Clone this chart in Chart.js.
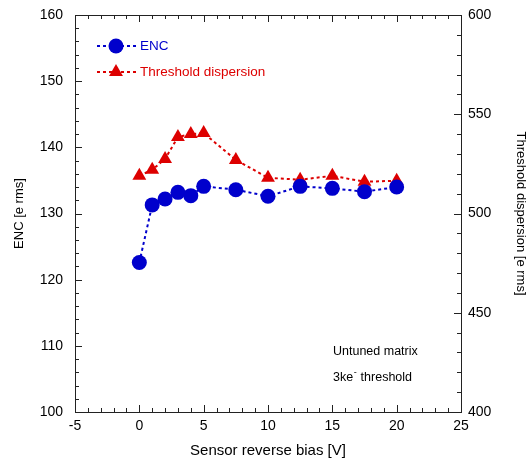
<!DOCTYPE html>
<html lang="en">
<head>
    <meta charset="UTF-8">
    <title>ENC and threshold dispersion vs sensor bias</title>
    <style>
        body {
            margin: 0;
            background: #fff;
        }

        #chart-box {
            width: 530px;
            height: 463px;
        }
    </style>
</head>
<body>
    <div id="chart-box">
        <canvas id="bias-chart"></canvas>
    </div>

    <script src="https://cdn.jsdelivr.net/npm/chart.js"></script>
    <script>
        // sensor reverse bias [V]
        const biasVolts = [0, 1, 2, 3, 4, 5, 7.5, 10, 12.5, 15, 17.5, 20];
        // ENC [e rms], left axis
        const encValues = [122.6, 131.3, 132.2, 133.2, 132.7, 134.1, 133.6, 132.6, 134.1, 133.8, 133.3, 134.0];
        // threshold dispersion [e rms], right axis
        const dispersionValues = [519, 522, 527.5, 538.5, 540, 540.5, 527, 518, 517, 519, 516, 516.5];

        const xRange = [-5, 25];
        const encRange = [100, 160];
        const dispRange = [400, 600];

        const blue = '#0000cc';
        const red = '#dd0000';
        const font = 'Arial, "Liberation Sans", sans-serif';

        function toPoints(values) {
            return biasVolts.map((v, i) => ({ x: v, y: values[i] }));
        }

        function fixVertical(width) {
            return scale => {
                scale.width = width;
                scale.paddingTop = 0;
                scale.paddingBottom = 0;
            };
        }

        // frame, inward tick marks, legend and the note in the corner
        const decorations = {
            id: 'decorations',
            afterDatasetsDraw(chart) {
                const ctx = chart.ctx;
                const area = chart.chartArea;
                const xs = chart.scales.x;
                const yl = chart.scales.y;
                const yr = chart.scales.y1;

                ctx.save();
                ctx.strokeStyle = '#222';
                ctx.lineWidth = 1;
                ctx.strokeRect(Math.round(area.left) + 0.5, Math.round(area.top) + 0.5,
                    Math.round(area.right - area.left), Math.round(area.bottom - area.top));

                ctx.beginPath();
                for (let v = xRange[0]; v <= xRange[1]; v += 1) {
                    const len = v % 5 === 0 ? 7 : 4;
                    const px = Math.round(xs.getPixelForValue(v)) + 0.5;
                    ctx.moveTo(px, area.bottom);
                    ctx.lineTo(px, area.bottom - len);
                    ctx.moveTo(px, area.top);
                    ctx.lineTo(px, area.top + len);
                }
                for (let v = encRange[0]; v <= encRange[1]; v += 2) {
                    const len = v % 10 === 0 ? 7 : 4;
                    const py = Math.round(yl.getPixelForValue(v)) + 0.5;
                    ctx.moveTo(area.left, py);
                    ctx.lineTo(area.left + len, py);
                }
                for (let v = dispRange[0]; v <= dispRange[1]; v += 10) {
                    const len = v % 50 === 0 ? 7 : 4;
                    const py = Math.round(yr.getPixelForValue(v)) + 0.5;
                    ctx.moveTo(area.right, py);
                    ctx.lineTo(area.right - len, py);
                }
                ctx.stroke();

                // legend
                chart.data.datasets.forEach((ds, i) => {
                    const y = area.top + 31 + i * 26;
                    ctx.strokeStyle = ds.borderColor;
                    ctx.fillStyle = ds.backgroundColor;
                    ctx.lineWidth = ds.borderWidth;
                    ctx.setLineDash(ds.borderDash);
                    ctx.beginPath();
                    ctx.moveTo(area.left + 22, y);
                    ctx.lineTo(area.left + 61, y);
                    ctx.stroke();
                    ctx.setLineDash([]);
                    Chart.helpers.drawPoint(ctx, {
                        pointStyle: ds.pointStyle,
                        radius: ds.pointRadius,
                        rotation: 0,
                        borderWidth: 0
                    }, area.left + 41, y);
                    ctx.fillStyle = ds.borderColor;
                    ctx.font = '13.5px ' + font;
                    ctx.textBaseline = 'middle';
                    ctx.textAlign = 'left';
                    ctx.fillText(ds.label, area.left + 65, y);
                });

                // note
                ctx.fillStyle = '#000';
                ctx.font = '12.5px ' + font;
                ctx.textBaseline = 'middle';
                const nx = area.left + 258;
                ctx.fillText('Untuned matrix', nx, area.top + 337);
                const ny = area.top + 363;
                ctx.fillText('3ke', nx, ny);
                let w = ctx.measureText('3ke').width;
                ctx.font = '9px ' + font;
                ctx.fillText('-', nx + w + 0.5, ny - 5);
                w += ctx.measureText('-').width + 1;
                ctx.font = '12.5px ' + font;
                ctx.fillText(' threshold', nx + w, ny);
                ctx.restore();
            }
        };

        const ctx = document.getElementById('bias-chart').getContext('2d');

        new Chart(ctx, {
            type: 'line',
            data: {
                datasets: [
                    {
                        label: 'ENC',
                        data: toPoints(encValues),
                        yAxisID: 'y',
                        borderColor: blue,
                        backgroundColor: blue,
                        borderWidth: 2,
                        borderDash: [3, 3],
                        pointStyle: 'circle',
                        pointRadius: 7.5,
                        pointBorderWidth: 0,
                        tension: 0
                    },
                    {
                        label: 'Threshold dispersion',
                        data: toPoints(dispersionValues),
                        yAxisID: 'y1',
                        borderColor: red,
                        backgroundColor: red,
                        borderWidth: 2,
                        borderDash: [3, 3],
                        pointStyle: 'triangle',
                        pointRadius: 8,
                        pointBorderWidth: 0,
                        tension: 0
                    }
                ]
            },
            options: {
                responsive: true,
                maintainAspectRatio: false,
                animation: false,
                layout: {
                    padding: { top: 15, right: 0, left: 0, bottom: 0 }
                },
                plugins: {
                    legend: { display: false },
                    tooltip: { enabled: false }
                },
                scales: {
                    x: {
                        type: 'linear',
                        min: xRange[0],
                        max: xRange[1],
                        grid: { display: false, drawTicks: false },
                        border: { display: false },
                        ticks: {
                            stepSize: 5,
                            padding: 6,
                            maxRotation: 0,
                            autoSkip: false,
                            color: '#000',
                            font: { family: font, size: 14 }
                        },
                        title: {
                            display: true,
                            text: 'Sensor reverse bias [V]',
                            color: '#000',
                            font: { family: font, size: 15 },
                            padding: { top: 0, bottom: 3 }
                        },
                        afterFit(scale) {
                            scale.height = 51;
                            scale.paddingLeft = 0;
                            scale.paddingRight = 0;
                        }
                    },
                    y: {
                        position: 'left',
                        min: encRange[0],
                        max: encRange[1],
                        grid: { display: false, drawTicks: false },
                        border: { display: false },
                        ticks: {
                            stepSize: 10,
                            padding: 12,
                            color: '#000',
                            font: { family: font, size: 14 }
                        },
                        title: {
                            display: true,
                            text: 'ENC [e rms]',
                            color: '#000',
                            font: { family: font, size: 13 },
                            padding: { top: 12, bottom: 0 }
                        },
                        afterFit: fixVertical(75)
                    },
                    y1: {
                        position: 'right',
                        min: dispRange[0],
                        max: dispRange[1],
                        grid: { display: false, drawTicks: false },
                        border: { display: false },
                        ticks: {
                            stepSize: 50,
                            padding: 7,
                            color: '#000',
                            font: { family: font, size: 14 }
                        },
                        title: {
                            display: true,
                            text: 'Threshold dispersion [e rms]',
                            color: '#000',
                            font: { family: font, size: 13 },
                            padding: { top: 2, bottom: 0 }
                        },
                        afterFit: fixVertical(69)
                    }
                }
            },
            plugins: [decorations]
        });
    </script>
</body>
</html>
